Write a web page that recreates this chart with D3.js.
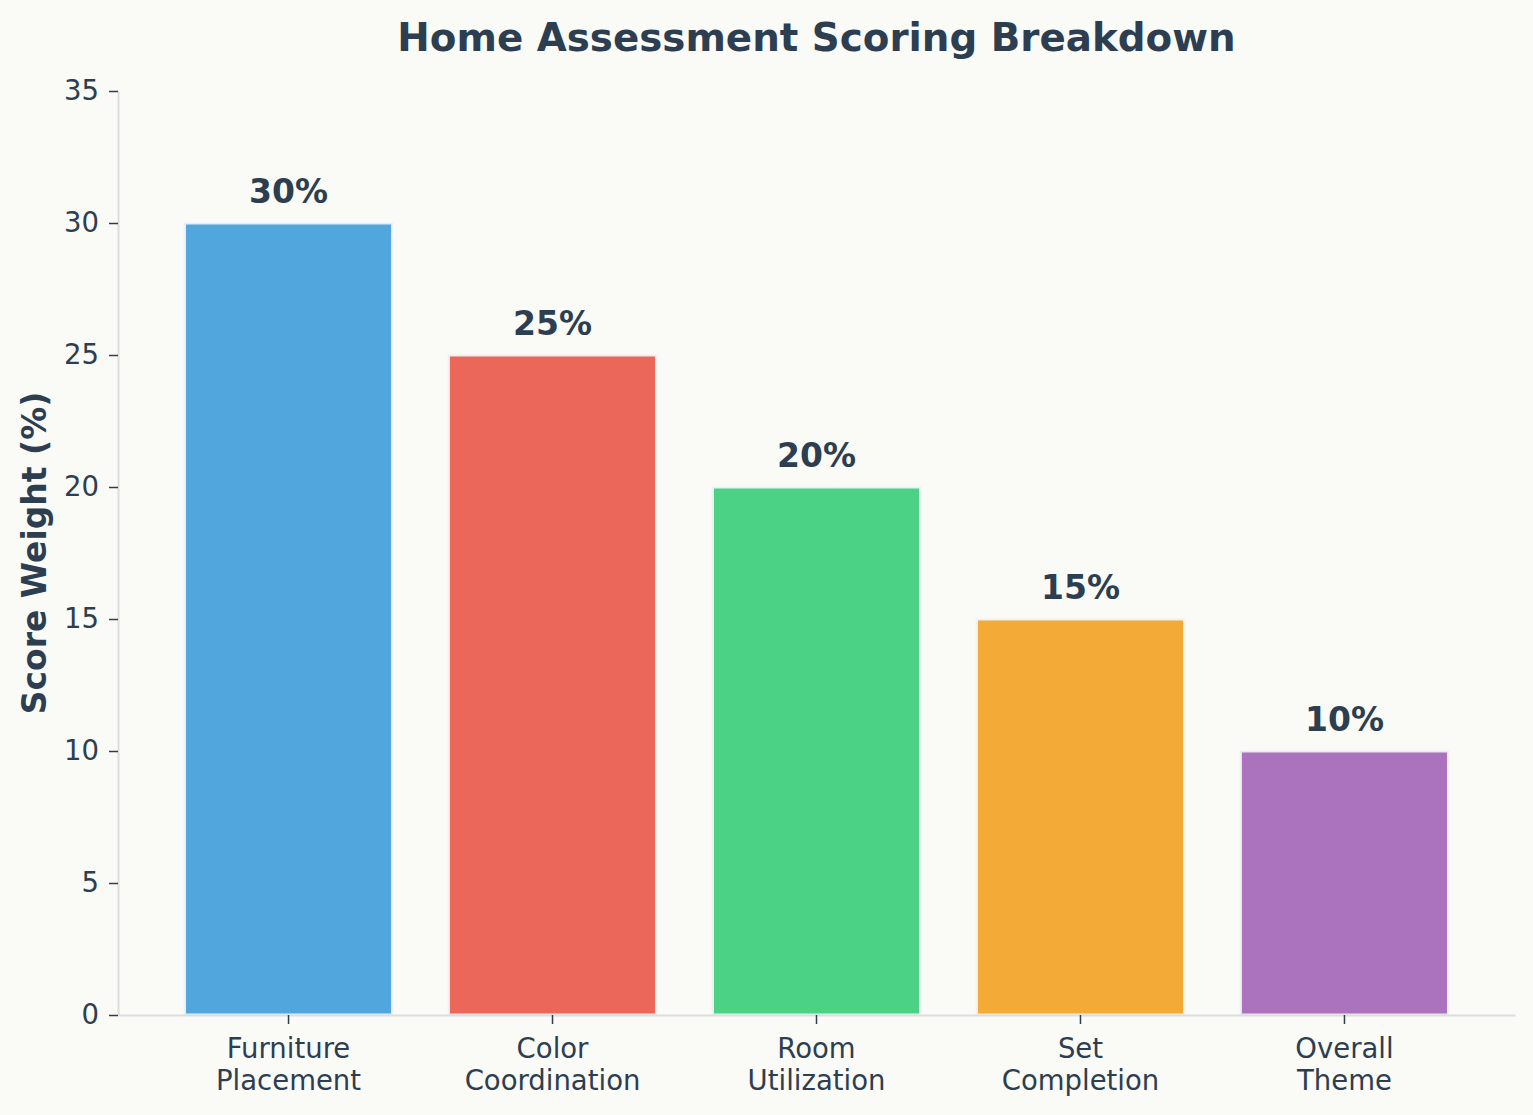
<!DOCTYPE html>
<html>
<head>
<meta charset="utf-8">
<script src="https://cdn.jsdelivr.net/npm/d3@7"></script>
<style>
  html, body { margin: 0; padding: 0; background: #fafaf7; }
  svg { display: block; font-family: "DejaVu Sans", sans-serif; }
</style>
</head>
<body>
<script>
const CATEGORIES = [
  ["Furniture", "Placement"],
  ["Color", "Coordination"],
  ["Room", "Utilization"],
  ["Set", "Completion"],
  ["Overall", "Theme"],
];
const WEIGHTS = [30, 25, 20, 15, 10];
const COLORS = ["#52a6de", "#eb675a", "#4bd284", "#f4aa36", "#ab72be"];
const Y_TICKS = [0, 5, 10, 15, 20, 25, 30, 35];

const WIDTH = 1533;
const HEIGHT = 1115;
const TEXT = "#2c3e50";
const margin = { left: 118, right: 18, top: 91, bottom: 100 };

const svg = d3
  .select("body")
  .append("svg")
  .attr("width", WIDTH)
  .attr("height", HEIGHT);

svg.append("rect").attr("width", WIDTH).attr("height", HEIGHT).attr("fill", "#fafaf7");

const x = d3
  .scaleBand()
  .domain(d3.range(WEIGHTS.length))
  .range([margin.left, WIDTH - margin.right])
  .paddingInner(0.212)
  .paddingOuter(0.252);

const y = d3
  .scaleLinear()
  .domain([0, 35])
  .range([HEIGHT - margin.bottom, margin.top]);

// bars
svg
  .selectAll("rect.bar")
  .data(WEIGHTS)
  .enter()
  .append("rect")
  .attr("class", "bar")
  .attr("x", (d, i) => x(i))
  .attr("y", (d) => y(d))
  .attr("width", x.bandwidth())
  .attr("height", (d) => y(0) - y(d))
  .attr("fill", (d, i) => COLORS[i])
  .attr("stroke", "#f4f6f8")
  .attr("stroke-opacity", 0.9)
  .attr("stroke-width", 3);

// value labels
svg
  .selectAll("text.value")
  .data(WEIGHTS)
  .enter()
  .append("text")
  .attr("class", "value")
  .attr("x", (d, i) => x(i) + x.bandwidth() / 2)
  .attr("y", (d) => y(d) - 20)
  .attr("text-anchor", "middle")
  .attr("fill", TEXT)
  .attr("font-size", 33)
  .attr("font-weight", "bold")
  .text((d) => `${d}%`);

// y axis
const yAxis = svg
  .append("g")
  .attr("transform", `translate(${margin.left},0)`)
  .call(d3.axisLeft(y).tickValues(Y_TICKS).tickSize(9).tickSizeOuter(0).tickPadding(10));
yAxis.select(".domain").attr("stroke", "#dddddd").attr("stroke-width", 2);
yAxis.selectAll(".tick line").attr("stroke", TEXT).attr("stroke-width", 1.5);
yAxis.selectAll(".tick text").attr("fill", TEXT).attr("font-size", 27.5).attr("font-family", "DejaVu Sans");

// x axis
const xAxis = svg
  .append("g")
  .attr("transform", `translate(0,${y(0)})`)
  .call(d3.axisBottom(x).tickSize(9).tickSizeOuter(0).tickPadding(10).tickFormat(""));
xAxis.select(".domain").attr("stroke", "#dddddd").attr("stroke-width", 2);
xAxis.selectAll(".tick line").attr("stroke", TEXT).attr("stroke-width", 1.5);
xAxis
  .selectAll(".tick text")
  .attr("fill", TEXT)
  .attr("font-size", 27.5)
  .attr("font-family", "DejaVu Sans")
  .attr("dy", null)
  .each(function (d) {
    const t = d3.select(this);
    t.selectAll("tspan")
      .data(CATEGORIES[d])
      .enter()
      .append("tspan")
      .attr("x", 0)
      .attr("y", (s, i) => 43 + i * 32)
      .text((s) => s);
  });

// y label
svg
  .append("text")
  .attr("transform", `translate(46,${(margin.top + y(0)) / 2}) rotate(-90)`)
  .attr("text-anchor", "middle")
  .attr("fill", TEXT)
  .attr("font-size", 33)
  .attr("font-weight", "bold")
  .text("Score Weight (%)");

// title
svg
  .append("text")
  .attr("x", (margin.left + WIDTH - margin.right) / 2)
  .attr("y", 51)
  .attr("text-anchor", "middle")
  .attr("fill", TEXT)
  .attr("font-size", 38.8)
  .attr("font-weight", "bold")
  .text("Home Assessment Scoring Breakdown");
</script>
</body>
</html>
